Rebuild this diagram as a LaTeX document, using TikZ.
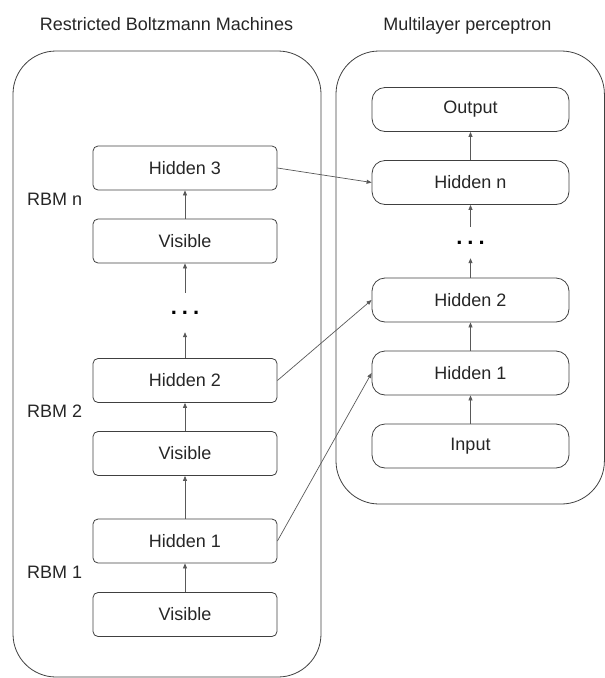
\documentclass[tikz,border=0pt]{standalone}
\usepackage{fontspec}
\setmainfont{Liberation Sans}
\usetikzlibrary{arrows.meta,positioning}

\begin{document}
\begin{tikzpicture}[x=1pt, y=-1pt,
    group/.style={draw=black!75, line width=0.8pt, rounded corners=43pt},
    layer/.style={draw=black!75, line width=0.8pt, rounded corners=5pt, minimum width=184pt, minimum height=44pt, inner sep=0pt, font=\fontsize{18}{21}\selectfont, text=black!85},
    mlplayer/.style={layer, rounded corners=13pt, minimum width=197pt},
    gap/.style={inner sep=0pt, minimum width=40pt, font=\fontsize{22}{24}\selectfont\bfseries},
    tag/.style={anchor=west, inner sep=0pt, font=\fontsize{18}{21}\selectfont, text=black!85},
    title/.style={anchor=base, inner sep=0pt, font=\fontsize{18}{21}\selectfont, text=black!85},
    link/.style={draw=black!65, line width=0.7pt, -{Triangle[length=5pt,width=4pt]}}]
    \useasboundingbox (0,0) rectangle (605,678);

    % titles
    \node[title] (rbmtitle) at (166.5,30) {Restricted Boltzmann Machines};
    \node[title] (mlptitle) at (467.5,30) {Multilayer perceptron};

    % containers
    \draw[group] (13,51) rectangle (321,677);
    \draw[group] (336,51) rectangle (604.4,504);

    % RBM stack
    \node[layer] (v1) at (185,614.5) {Visible};
    \node[layer] (h1) at (185,541) {Hidden 1};
    \node[layer] (v2) at (185,453.5) {Visible};
    \node[layer] (h2) at (185,380.5) {Hidden 2};
    \node[gap, minimum height=39pt] (rdots) at (185,312.5) {.\hspace{5pt}.\hspace{5pt}.};
    \node[layer] (vn) at (185,241) {Visible};
    \node[layer] (h3) at (185,168) {Hidden 3};

    % RBM labels
    \node[tag] (rbm1) at (27,572) {RBM 1};
    \node[tag] (rbm2) at (27,411) {RBM 2};
    \node[tag] (rbmn) at (27,199) {RBM n};

    % MLP stack
    \node[mlplayer] (in) at (470.5,446) {Input};
    \node[mlplayer] (m1) at (470.5,373) {Hidden 1};
    \node[mlplayer] (m2) at (470.5,300) {Hidden 2};
    \node[gap, minimum height=31pt] (mdots) at (470.5,242.5) {.\hspace{5pt}.\hspace{5pt}.};
    \node[mlplayer] (mn) at (470.5,182.5) {Hidden n};
    \node[mlplayer] (out) at (470.5,109.5) {Output};

    % arrows
    \draw[link] (v1) -- (h1);
    \draw[link] (h1) -- (v2);
    \draw[link] (v2) -- (h2);
    \draw[link] (h2) -- (rdots);
    \draw[link] (rdots) -- (vn);
    \draw[link] (vn) -- (h3);
    \draw[link] (in) -- (m1);
    \draw[link] (m1) -- (m2);
    \draw[link] (m2) -- (mdots);
    \draw[link] (mdots) -- (mn);
    \draw[link] (mn) -- (out);
    \draw[link] (h3.east) -- (mn.west);
    \draw[link] (h2.east) -- (m2.west);
    \draw[link] (h1.east) -- (m1.west);
\end{tikzpicture}
\end{document}
